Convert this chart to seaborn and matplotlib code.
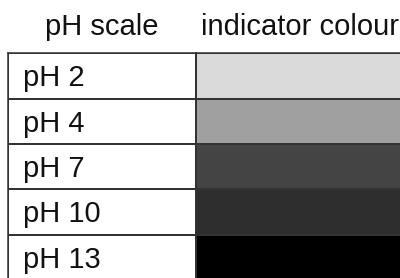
import matplotlib
matplotlib.use("Agg")
import matplotlib.pyplot as plt
import numpy as np
import seaborn as sns

# ---------------------------------------------------------------------------
# Data
# ---------------------------------------------------------------------------
HEADERS = ["pH scale", "indicator colour"]
PH_LABELS = ["pH 2", "pH 4", "pH 7", "pH 10", "pH 13"]
GREY_LEVELS = [218, 160, 68, 46, 0]   # indicator colour as 0-255 grey value

sns.set_style("white")
plt.rcParams["font.family"] = ["Liberation Sans", "DejaVu Sans"]

W, H = 400, 278
fig = plt.figure(figsize=(W / 100, H / 100), dpi=100)
fig.patch.set_facecolor("white")


def box(x0, x1, y0, y1):
    """pixel box (from top-left) -> figure fraction rect"""
    return [x0 / W, 1 - y1 / H, (x1 - x0) / W, (y1 - y0) / H]


TOP, BOT = 53.3, 280
SPLIT = 196
ax_lab = fig.add_axes(box(7.5, SPLIT, TOP, BOT))
ax_col = fig.add_axes(box(SPLIT, 404, TOP, BOT))

n = len(PH_LABELS)
LINE = "#333333"
common = dict(cmap="gray", vmin=0, vmax=255, cbar=False,
              linewidths=1.1, linecolor=LINE,
              xticklabels=False, yticklabels=False)

sns.heatmap(np.full((n, 1), 255), ax=ax_lab, **common)
sns.heatmap(np.array(GREY_LEVELS).reshape(-1, 1), ax=ax_col, **common)

for ax in (ax_lab, ax_col):
    for s in ax.spines.values():
        s.set_visible(True)
        s.set_color(LINE)
        s.set_linewidth(1.1)

for i, lab in enumerate(PH_LABELS):
    ax_lab.text(0.082, i + 0.73, lab, ha="left", va="baseline",
                fontsize=21, color="#111111")

fig.text((7.5 + SPLIT) / 2 / W, 1 - 35 / H, HEADERS[0],
         ha="center", va="baseline", fontsize=21, color="#111111")
fig.text(300 / W, 1 - 35 / H, HEADERS[1],
         ha="center", va="baseline", fontsize=21, color="#111111")

fig.savefig("out.png", dpi=100, facecolor="white")
plt.close(fig)
